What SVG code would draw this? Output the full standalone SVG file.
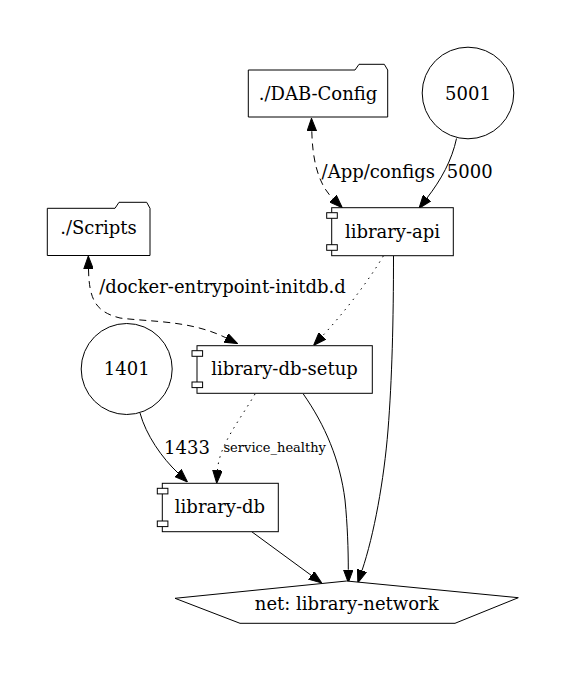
<svg xmlns="http://www.w3.org/2000/svg" width="567" height="677" viewBox="0 0 567 677">
<style>
.n{fill:#fff;stroke:#000;stroke-width:1}
.t{font-family:"DejaVu Serif",serif;font-size:18px;fill:#000;text-anchor:middle}
.s{font-family:"DejaVu Serif",serif;font-size:13px;fill:#000;text-anchor:middle}
.e{fill:none;stroke:#000;stroke-width:1}
.dash{stroke-dasharray:7,5}
.dot{stroke-dasharray:1.5,5}
</style>
<defs>
<marker id="a" viewBox="0 0 13 10" markerWidth="13" markerHeight="10" refX="0" refY="5" markerUnits="userSpaceOnUse" orient="auto-start-reverse">
<path d="M0,0.2 L13,5 L0,9.8 Z" fill="#000" stroke="#000" stroke-width="1"/>
</marker>
</defs>
<rect width="567" height="677" fill="#fff"/>
<g id="connectors">
<path class="e dash" d="M311.8,131.3 C312.5,160 318,184 333,198.7" marker-start="url(#a)" marker-end="url(#a)"/>
<text class="t" x="378.3" y="178.3">/App/configs</text>
<path class="e" d="M456.5,138.5 C452,160 441,180 427,198" marker-end="url(#a)"/>
<text class="t" x="469.7" y="178.3">5000</text>
<path class="e dot" d="M383.3,256 C368,282 342,315 322.4,336" marker-end="url(#a)"/>
<path class="e" d="M393.5,256 C393.5,320 392,380 388,430 C384,480 374,535 362,570.5" marker-end="url(#a)"/>
<path class="e dash" d="M88.5,269 C89,300 96,312 120,318 C150,322 190,320 225.9,337.8" marker-start="url(#a)" marker-end="url(#a)"/>
<text class="t" x="222.5" y="293.3">/docker-entrypoint-initdb.d</text>
<path class="e" d="M140,413 C146,435 162,458 178,473" marker-end="url(#a)"/>
<text class="t" x="187" y="454">1433</text>
<path class="e dot" d="M255,394 C240,420 219,445 217.5,470.3" marker-end="url(#a)"/>
<text class="s" x="274.7" y="452.3">service_healthy</text>
<path class="e" d="M303.3,394 C325,425 340,460 345,500 C347.5,525 348.3,550 348.3,569.7" marker-end="url(#a)"/>
<path class="e" d="M251.7,531.7 L311.2,575.3" marker-end="url(#a)"/>
</g>
<g id="dab-config">
<path class="n" d="M248.3,70 L355,70 L359,64.3 L384.3,64.3 L387.7,70 L387.7,117 L248.3,117 Z"/>
<text class="t" x="318" y="100">./DAB-Config</text>
</g>
<g id="port-5001">
<circle class="n" cx="468" cy="93" r="45.8"/>
<text class="t" x="468" y="99.5">5001</text>
</g>
<g id="scripts">
<path class="n" d="M47.3,208.3 L115,208.3 L119,202.3 L146.7,202.3 L150,208.3 L150,255.5 L47.3,255.5 Z"/>
<text class="t" x="98.5" y="234.3">./Scripts</text>
</g>
<g id="library-api">
<rect class="n" x="331.7" y="207.7" width="121.6" height="48"/>
<rect class="n" x="326.7" y="212.7" width="10.6" height="5.6"/>
<rect class="n" x="326.7" y="244.7" width="10.6" height="5.6"/>
<text class="t" x="392.5" y="237.5">library-api</text>
</g>
<g id="port-1401">
<circle class="n" cx="126.7" cy="369" r="45.5"/>
<text class="t" x="126.7" y="375.3">1401</text>
</g>
<g id="library-db-setup">
<rect class="n" x="197" y="345.7" width="175.3" height="47.6"/>
<rect class="n" x="192" y="350.7" width="10.6" height="5.6"/>
<rect class="n" x="192" y="382" width="10.6" height="5.6"/>
<text class="t" x="284.5" y="375.3">library-db-setup</text>
</g>
<g id="library-db">
<rect class="n" x="162.3" y="483.3" width="116" height="48.4"/>
<rect class="n" x="157.3" y="488.3" width="10.6" height="5.6"/>
<rect class="n" x="157.3" y="521" width="10.6" height="5.6"/>
<text class="t" x="220" y="512.7">library-db</text>
</g>
<g id="library-network">
<path class="n" d="M346.7,581 L518.3,597.7 L455,623.3 L240,623.3 L175,598.3 Z"/>
<text class="t" x="346.7" y="610.3">net: library-network</text>
</g>
</svg>
